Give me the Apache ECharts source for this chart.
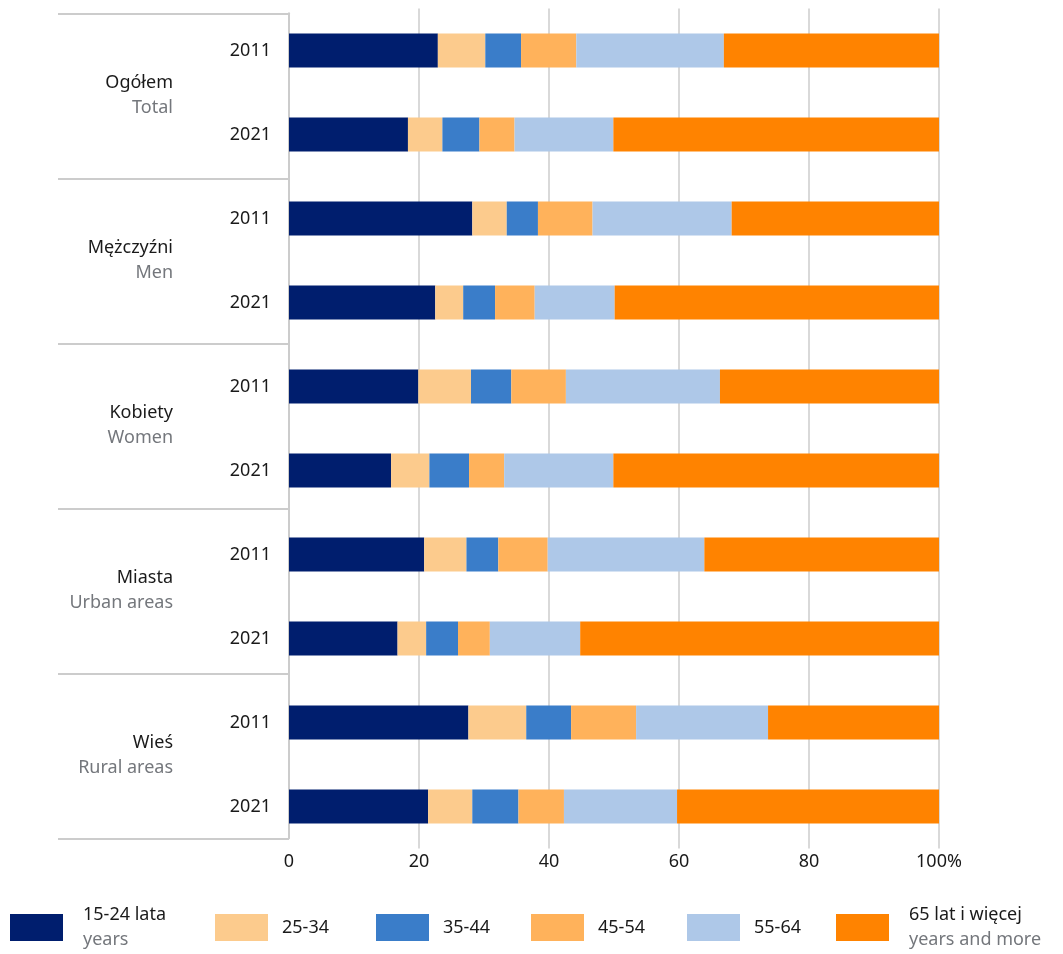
<!DOCTYPE html>
<html>
<head>
<meta charset="utf-8">
<script src="https://cdn.jsdelivr.net/npm/echarts@6/dist/echarts.min.js"></script>
<style>
  html, body { margin: 0; padding: 0; background: #fff; }
  #chart { width: 1063px; height: 954px; }
</style>
</head>
<body>
<div id="chart"></div>
<script>
  // grupy i lata
  const groups = ['Ogółem', 'Mężczyźni', 'Kobiety', 'Miasta', 'Wieś'];
  const groupsEn = ['Total', 'Men', 'Women', 'Urban areas', 'Rural areas'];
  const years = ['2011', '2021'];
  const xTicks = [0, 20, 40, 60, 80, 100];

  // grupy wieku (legenda)
  const ageNames = ['15-24 lata', '25-34', '35-44', '45-54', '55-64', '65 lat i więcej'];
  const ageSub = ['years', '', '', '', '', 'years and more'];

  // udział w % - kolejność: Ogółem 2011, 2021, Mężczyźni 2011, 2021, Kobiety..., Miasta..., Wieś...
  const a1524 = [22.9, 18.3, 28.2, 22.5, 19.9, 15.7, 20.8, 16.7, 27.6, 21.4];
  const a2534 = [7.3, 5.3, 5.3, 4.3, 8.1, 5.9, 6.5, 4.4, 8.9, 6.8];
  const a3544 = [5.5, 5.7, 4.8, 4.9, 6.2, 6.1, 4.9, 4.9, 6.9, 7.1];
  const a4554 = [8.5, 5.4, 8.4, 6.1, 8.4, 5.4, 7.6, 4.9, 10.0, 7.0];
  const a5564 = [22.7, 15.2, 21.4, 12.3, 23.7, 16.8, 24.1, 13.9, 20.3, 17.4];
  const a65 = [33.1, 50.1, 31.9, 49.9, 33.7, 50.1, 36.1, 55.2, 26.3, 40.3];

  const seriesValues = [a1524, a2534, a3544, a4554, a5564, a65];
  const colors = ['#001E6E', '#FCCB8D', '#3A7DC9', '#FFB25B', '#AEC8E8', '#FF8300'];
  const legendLeft = [10, 215, 376, 531, 687, 836];

  const FONT = '"Noto Sans", "DejaVu Sans", sans-serif';

  // klucze kategorii (unikalne), etykieta = rok
  let catKeys = [];
  groups.forEach(g => years.forEach(y => catKeys.push(g + '|' + y)));

  let myChart = echarts.init(document.getElementById('chart'));

  let legends = ageNames.map((name, i) => ({
    data: [name],
    left: legendLeft[i],
    top: ageSub[i] ? 906 : 914,
    padding: 0,
    itemWidth: 53,
    itemHeight: 27,
    icon: 'rect',
    selectedMode: false,
    formatter: function (n) {
      let k = ageNames.indexOf(n);
      return ageSub[k] ? '{m|' + n + '}\n{s|' + ageSub[k] + '}' : '{m|' + n + '}';
    },
    textStyle: {
      fontFamily: FONT,
      padding: [0, 0, 0, ageSub[i] ? 15 : 9],
      rich: {
        m: { fontFamily: FONT, fontSize: 18, color: '#1a1a1a', lineHeight: 25 },
        s: { fontFamily: FONT, fontSize: 18, color: '#74777c', lineHeight: 25 }
      }
    }
  }));

  myChart.setOption({
    animation: false,
    color: colors,
    legend: legends,
    grid: [
      { left: 289, right: 124, top: 8.5, bottom: 105.5 },
      { left: 289, right: 124, top: 13.3, bottom: 115.7 }
    ],
    xAxis: [
      {
        gridIndex: 0,
        type: 'value',
        min: 0,
        max: 100,
        interval: 20,
        axisLine: { show: false },
        axisTick: { show: false },
        splitLine: { show: true, showMinLine: false, lineStyle: { color: '#d9d9d9', width: 2 } },
        axisLabel: {
          margin: 4,
          fontFamily: FONT,
          fontSize: 18,
          color: '#1a1a1a',
          formatter: v => (xTicks.indexOf(v) >= 0 ? (v === 100 ? v + '%' : String(v)) : '')
        }
      },
      { gridIndex: 1, type: 'value', min: 0, max: 100, show: false }
    ],
    yAxis: [
      {
        gridIndex: 0,
        type: 'category',
        inverse: true,
        data: catKeys,
        axisLine: { show: false },
        axisTick: { show: false },
        axisLabel: {
          margin: 18,
          fontFamily: FONT,
          fontSize: 18,
          color: '#1a1a1a',
          formatter: v => v.split('|')[1]
        }
      },
      {
        gridIndex: 1,
        type: 'category',
        inverse: true,
        data: groups,
        axisLine: { show: true, lineStyle: { color: '#cccccc', width: 2 } },
        axisTick: { show: true, length: 231, lineStyle: { color: '#cccccc', width: 2 } },
        axisLabel: {
          margin: 116,
          formatter: function (v) {
            let k = groups.indexOf(v);
            return '{m|' + v + '}\n{s|' + groupsEn[k] + '}';
          },
          rich: {
            m: { fontFamily: FONT, fontSize: 18, color: '#1a1a1a', lineHeight: 25, align: 'right' },
            s: { fontFamily: FONT, fontSize: 18, color: '#74777c', lineHeight: 25, align: 'right' }
          }
        }
      }
    ],
    series: ageNames.map((name, i) => ({
      name: name,
      type: 'bar',
      stack: 'total',
      xAxisIndex: 0,
      yAxisIndex: 0,
      barWidth: 34,
      itemStyle: { color: colors[i] },
      data: seriesValues[i]
    }))
  });
</script>
</body>
</html>
